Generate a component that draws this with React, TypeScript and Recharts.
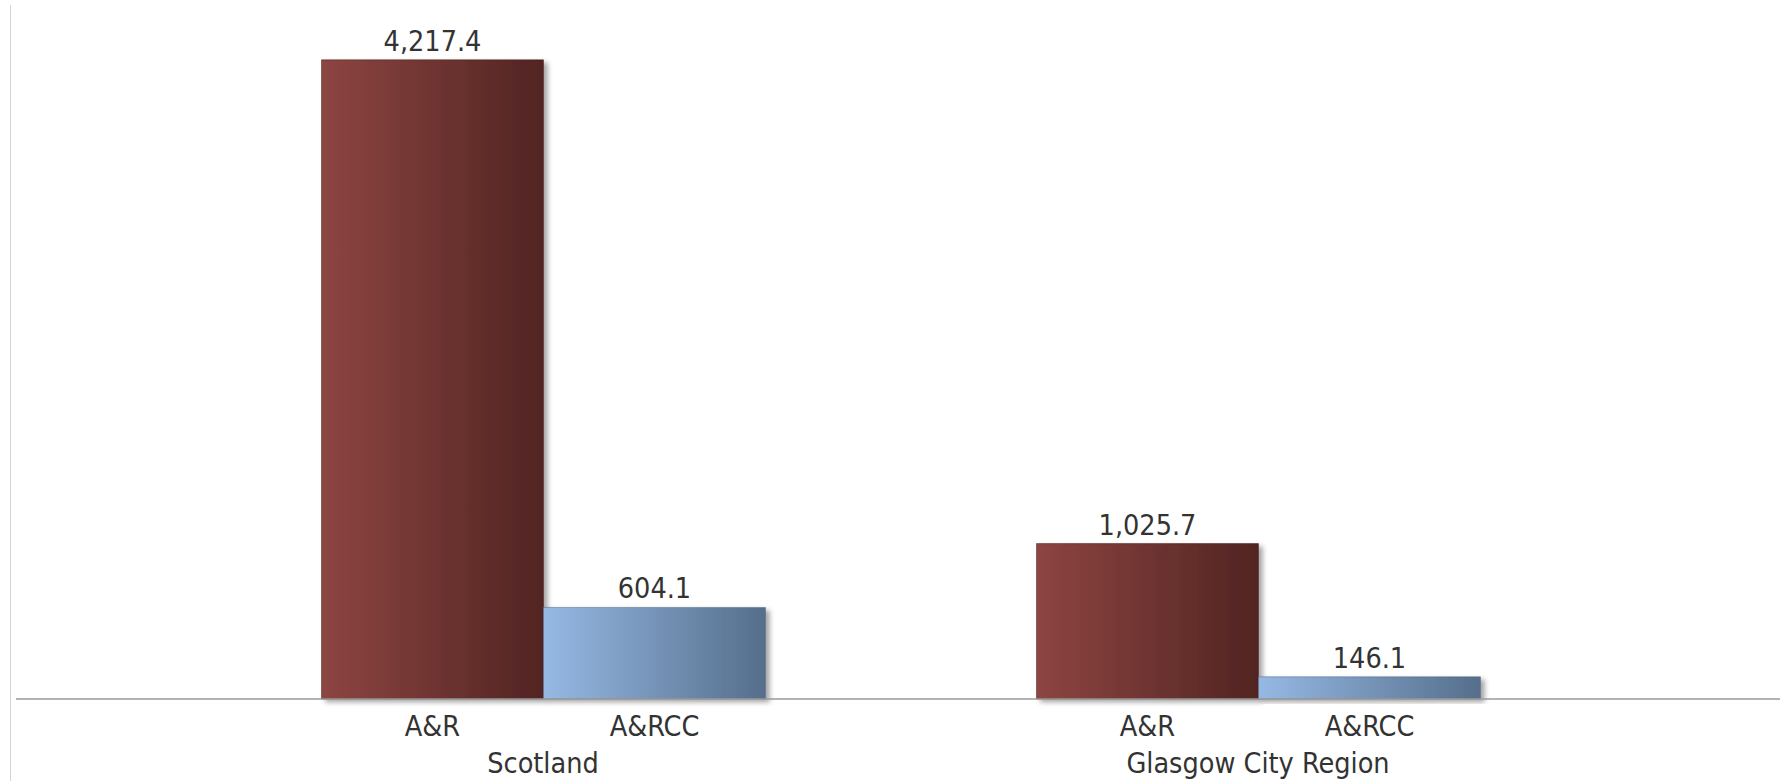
import React from 'react';
import { BarChart, Bar, XAxis, YAxis, LabelList } from 'recharts';

const regions = ['Scotland', 'Glasgow City Region'];
const seriesNames = ['A&R', 'A&RCC'];
const arValues = [4217.4, 1025.7];
const arccValues = [604.1, 146.1];

const data = regions.map((region, i) => ({
  region,
  ar: arValues[i],
  arcc: arccValues[i],
}));

const FONT = '"DejaVu Sans Condensed", "DejaVu Sans", sans-serif';
const TEXT = '#333333';
const FONT_SIZE = 28.5;
const BAR_SIZE = 222;

const fmt = (v: any) =>
  Number(v).toLocaleString('en-GB', { minimumFractionDigits: 1, maximumFractionDigits: 1 });

// series name under each bar
const seriesLabel = (name: string) => (props: any) => {
  const { x, y, width, height } = props;
  return (
    <text
      x={x + width / 2}
      y={y + height + 37}
      textAnchor="middle"
      fill={TEXT}
      fontSize={FONT_SIZE}
      fontFamily={FONT}
    >
      {name}
    </text>
  );
};

const RegionTick = (props: any) => {
  const { x, y, payload } = props;
  return (
    <text x={x} y={y + 66} textAnchor="middle" fill={TEXT} fontSize={FONT_SIZE} fontFamily={FONT}>
      {payload.value}
    </text>
  );
};

export default function App() {
  return (
    <div style={{ position: 'absolute', left: 0, top: 0, width: 1780, height: 781, background: '#fff' }}>
      <div
        style={{
          position: 'absolute',
          left: 10,
          top: 5,
          height: 776,
          borderLeft: '1px solid #d4d4d4',
        }}
      />
      <BarChart
        width={1780}
        height={781}
        data={data}
        margin={{ top: 17, right: 0, left: 16, bottom: 2 }}
        barGap={0}
        barSize={BAR_SIZE}
      >
        <defs>
          <linearGradient id="gradAR" x1="0" y1="0" x2="1" y2="0">
            <stop offset="0%" stopColor="#8d4541" />
            <stop offset="100%" stopColor="#512422" />
          </linearGradient>
          <linearGradient id="gradARCC" x1="0" y1="0" x2="1" y2="0">
            <stop offset="0%" stopColor="#96b9e4" />
            <stop offset="100%" stopColor="#556e8b" />
          </linearGradient>
          <filter id="barShadow" x="-10%" y="-10%" width="130%" height="130%">
            <feDropShadow dx="4" dy="3" stdDeviation="2.5" floodColor="#000" floodOpacity="0.35" />
          </filter>
        </defs>
        <XAxis
          dataKey="region"
          height={80}
          axisLine={{ stroke: '#9a9a9a', strokeWidth: 1.5 }}
          tickLine={false}
          tick={<RegionTick />}
          padding={{ left: 169.5, right: 164.5 }}
          interval={0}
        />
        <YAxis hide domain={[0, 4500]} />
        <Bar
          dataKey="ar"
          name={seriesNames[0]}
          fill="url(#gradAR)"
          stroke="#4a201e"
          strokeOpacity={0.5}
          filter="url(#barShadow)"
          isAnimationActive={false}
        >
          <LabelList
            dataKey="ar"
            position="top"
            offset={9}
            formatter={fmt}
            fill={TEXT}
            fontSize={FONT_SIZE}
            fontFamily={FONT}
          />
          <LabelList dataKey="ar" content={seriesLabel(seriesNames[0])} />
        </Bar>
        <Bar
          dataKey="arcc"
          name={seriesNames[1]}
          fill="url(#gradARCC)"
          stroke="#4f6783"
          strokeOpacity={0.5}
          filter="url(#barShadow)"
          isAnimationActive={false}
        >
          <LabelList
            dataKey="arcc"
            position="top"
            offset={9}
            formatter={fmt}
            fill={TEXT}
            fontSize={FONT_SIZE}
            fontFamily={FONT}
          />
          <LabelList dataKey="arcc" content={seriesLabel(seriesNames[1])} />
        </Bar>
      </BarChart>
    </div>
  );
}
